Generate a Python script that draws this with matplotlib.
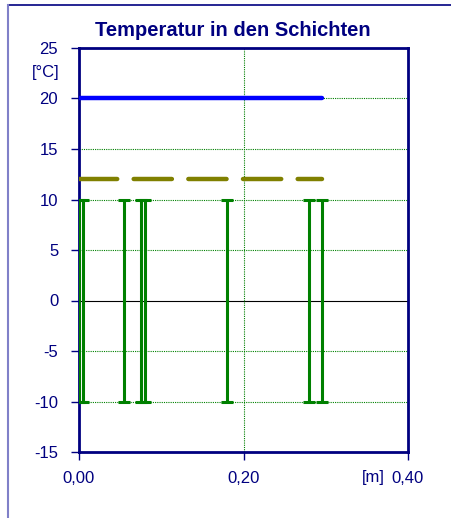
import matplotlib
matplotlib.use("Agg")

import matplotlib.pyplot as plt
from matplotlib.lines import Line2D

# layer boundaries in the wall [m]
layer_x = [0.0, 0.005, 0.055, 0.075, 0.08, 0.18, 0.28, 0.295]
bar_low = [-10, -10, -10, -10, -10, -10, -10, -10]
bar_high = [10, 10, 10, 10, 10, 10, 10, 10]

# inside / dew point temperatures across the wall
line_x = [0.0, 0.295]
temp_inside = [20, 20]
temp_dew = [12, 12]

yticks = [-15, -10, -5, 0, 5, 10, 15, 20, 25]
xticks = [0.0, 0.2, 0.4]
xtick_labels = ["0,00", "0,20", "0,40"]

NAVY = "#000080"

plt.rcParams["font.family"] = ["Liberation Sans", "DejaVu Sans"]

fig = plt.figure(figsize=(4.52, 5.18), dpi=100)
ax = fig.add_axes([79 / 452, 66 / 518, 329 / 452, 404 / 518])

ax.set_xlim(0, 0.4)
ax.set_ylim(-15, 25)

# grid: dotted green, zero line solid black
for y in yticks:
    if y == 0:
        ax.axhline(y, color="black", lw=0.8, zorder=1)
    elif y not in (-15, 25):
        ax.axhline(y, color="#008000", lw=0.8, ls=(0, (1, 1)), zorder=1)
ax.axvline(0.2, color="#008000", lw=0.8, ls=(0, (1, 1)), zorder=1)

mid = [(lo + hi) / 2 for lo, hi in zip(bar_low, bar_high)]
err = [(hi - lo) / 2 for lo, hi in zip(bar_low, bar_high)]
ax.errorbar(layer_x, mid, yerr=err, fmt="none", ecolor="#008000",
            elinewidth=2.2, capsize=4, capthick=2.2, zorder=3)

ax.plot(line_x, temp_inside, color="#0000ff", lw=3.2,
        solid_capstyle="round", zorder=4)
ax.plot(line_x, temp_dew, color="#808000", lw=3.2,
        dashes=(8.6, 3.7), dash_capstyle="round", zorder=4)

for s in ax.spines.values():
    s.set_color(NAVY)
    s.set_linewidth(2)

ax.set_yticks(yticks)
ax.set_yticklabels([str(v) for v in yticks])
ax.set_xticks(xticks)
ax.set_xticklabels(xtick_labels)
ax.tick_params(axis="both", colors=NAVY, labelcolor=NAVY, labelsize=12,
               length=6, width=1)
ax.tick_params(axis="y", pad=9)
ax.tick_params(axis="x", pad=8)

ax.text(-0.058, 0.94, "[°C]", transform=ax.transAxes, ha="right",
        va="center", color=NAVY, fontsize=12)
ax.text(0.894, -0.062, "[m]", transform=ax.transAxes, ha="center",
        va="center", color=NAVY, fontsize=12)

fig.text(233 / 452, 1 - 30 / 518, "Temperatur in den Schichten",
         ha="center", va="center", color=NAVY, fontsize=14.5,
         fontweight="bold")

# outer frame (top and left edge only)
fig.add_artist(Line2D([8 / 452, 1], [1 - 5 / 518, 1 - 5 / 518],
                      color=NAVY, lw=1.2, transform=fig.transFigure))
fig.add_artist(Line2D([8 / 452, 8 / 452], [0, 1 - 5 / 518],
                      color="#8080c8", lw=1.5, transform=fig.transFigure))

fig.savefig("out.png", dpi=100)
